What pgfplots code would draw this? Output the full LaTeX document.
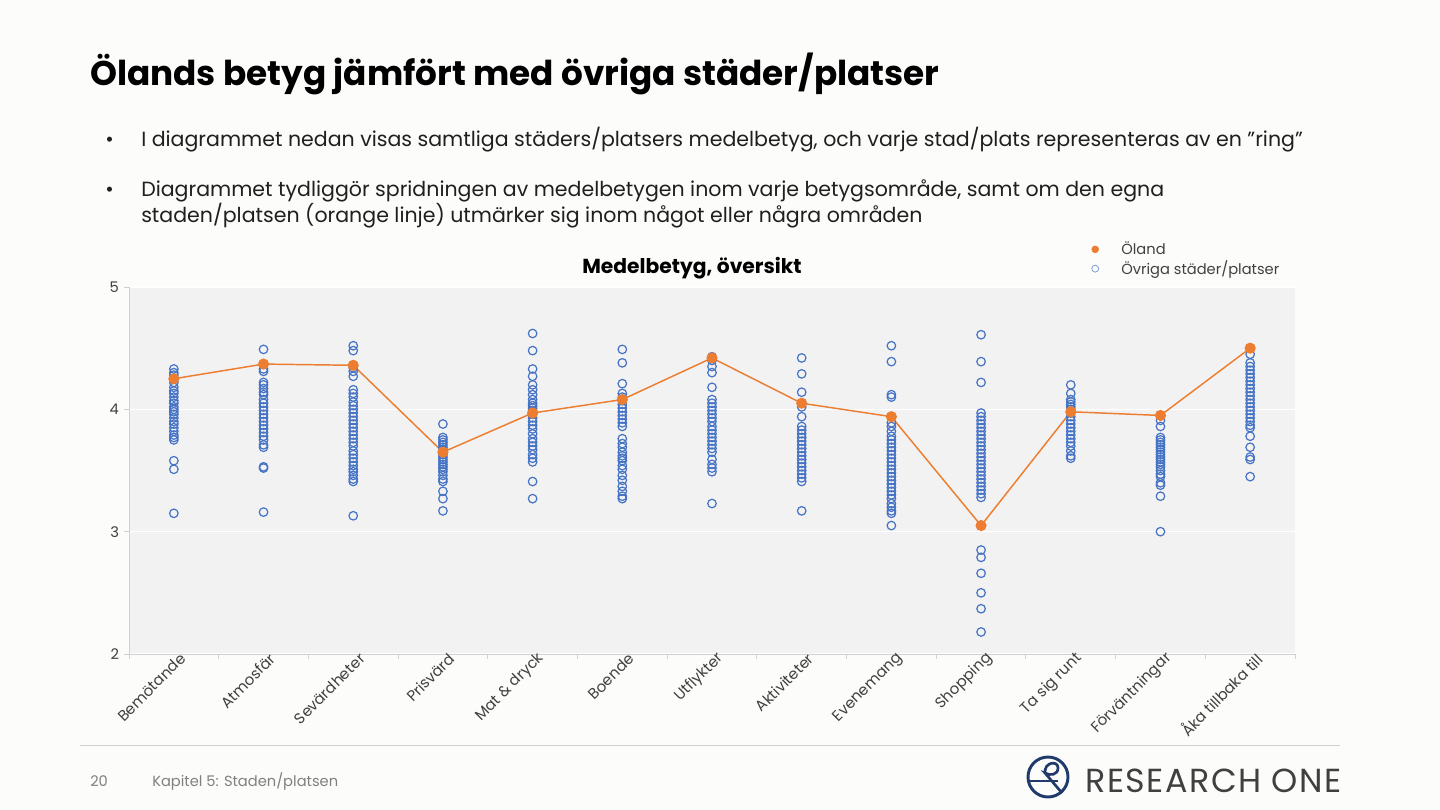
\documentclass[border=0pt]{standalone}
\usepackage{pgfplots}
\pgfplotsset{compat=1.18}
\usepackage{fontspec}
\setmainfont{Poppins}
\newfontfamily\logofont[LetterSpace=4.5]{Poppins}
\definecolor{bg}{HTML}{FCFCFA}
\definecolor{plotbg}{HTML}{F2F2F2}
\definecolor{axisgray}{HTML}{D0D0D0}
\definecolor{labelgray}{HTML}{404040}
\definecolor{footgray}{HTML}{808080}
\definecolor{oland}{HTML}{ED7D31}
\definecolor{others}{HTML}{4472C4}
\definecolor{logoblue}{HTML}{1F3A6B}
\begin{document}
\begin{tikzpicture}[x=0.75pt,y=-0.75pt]
\useasboundingbox (0,0) rectangle (1440,810);
\fill[bg] (0,0) rectangle (1440,810);
% title
\node[anchor=base west, inner sep=0pt, font=\bfseries\fontsize{25.7}{30}\selectfont, text=black] at (90,85) {Ölands betyg jämfört med övriga städer/platser};
% bullets
\begin{scope}[every node/.style={anchor=base west, inner sep=0pt, font=\fontsize{15.4}{18}\selectfont, text=black!88}]
\node at (105,146) {•};
\node at (141,146) {I diagrammet nedan visas samtliga städers/platsers medelbetyg, och varje stad/plats representeras av en ”ring”};
\node at (105,196) {•};
\node at (141,196) {Diagrammet tydliggör spridningen av medelbetygen inom varje betygsområde, samt om den egna};
\node at (141,222) {staden/platsen (orange linje) utmärker sig inom något eller några områden};
\end{scope}
% chart title
\node[anchor=base, inner sep=0pt, font=\bfseries\fontsize{15.2}{18}\selectfont] at (692,273) {Medelbetyg, översikt};
% footer
\draw[color=axisgray, line width=0.75pt] (80,745) -- (1340,745);
\node[anchor=base west, inner sep=0pt, font=\fontsize{11}{13}\selectfont, text=footgray] at (90,786) {20};
\node[anchor=base west, inner sep=0pt, font=\fontsize{11}{13}\selectfont, text=footgray] at (152,786) {Kapitel 5: Staden/platsen};
% logo
\draw[logoblue, line width=2.2pt] (1048,777) circle (20);
\draw[logoblue, line width=2pt] (1029,781) -- (1058,781);
\draw[logoblue, line width=2pt] (1045,773) .. controls (1044,762) and (1058,760) .. (1058,768) .. controls (1058,775) and (1050,776) .. (1045,773) -- (1062,793);
\node[anchor=base west, inner sep=0pt, font=\logofont\fontsize{25}{30}\selectfont, text=labelgray] at (1085,792) {RESEARCH ONE};
\begin{axis}[
  at={(96.75pt,-490.5pt)}, anchor=south west,
  width=874.5pt, height=275.25pt, scale only axis,
  xmin=-0.5, xmax=12.5, ymin=2, ymax=5,
  axis x line*=bottom, axis y line*=left,
  axis line style={draw=axisgray, line width=0.75pt, -},
  axis background/.style={fill=plotbg},
  ytick={2,3,4,5},
  ymajorgrids, grid style={white, line width=0.9pt},
  tick align=outside,
  major tick length=4pt,
  ytick style={draw=axisgray, line width=0.75pt},
  xtick={0,...,12},
  major x tick style={draw=none},
  minor xtick={-0.5,0.5,...,12.5},
  minor tick length=4pt,
  minor x tick style={draw=axisgray, line width=0.75pt},
  xticklabels={Bemötande,Atmosfär,Sevärdheter,Prisvärd,Mat \& dryck,Boende,Utflykter,Aktiviteter,Evenemang,Shopping,Ta sig runt,Förväntningar,Åka tillbaka till},
  xticklabel style={rotate=45, anchor=east, font=\fontsize{11.3}{13}\selectfont, text=labelgray, xshift=10pt, yshift=-3pt},
  yticklabel style={font=\fontsize{11}{13}\selectfont, text=labelgray},
  /pgf/number format/assume math mode=true,
  legend style={at={(0.822,1.138)}, anchor=north west, draw=none, fill=none, font=\fontsize{11}{13}\selectfont, text=labelgray, row sep=-1pt, /tikz/every odd column/.append style={column sep=15pt}},
  legend cell align=left,
  clip=false,
]
\addlegendimage{only marks, mark=*, mark size=2.6pt, color=oland}
\addlegendentry{Öland}
\addlegendimage{only marks, mark=o, mark size=2.6pt, color=others!70, line width=0.6pt}
\addlegendentry{Övriga städer/platser}
\addplot[forget plot, only marks, mark=o, mark size=3.2pt, color=others, line width=0.9pt] coordinates {
(0,4.33)(0,4.30)(0,4.28)(0,4.25)(0,4.22)(0,4.18)(0,4.15)(0,4.13)(0,4.10)(0,4.07)(0,4.05)(0,4.02)(0,4.00)(0,3.98)(0,3.96)(0,3.93)(0,3.90)(0,3.88)(0,3.85)(0,3.82)(0,3.79)(0,3.77)(0,3.75)(0,3.58)(0,3.51)(0,3.15)
(1,4.49)(1,4.33)(1,4.31)(1,4.22)(1,4.20)(1,4.17)(1,4.14)(1,4.12)(1,4.08)(1,4.05)(1,4.02)(1,3.99)(1,3.96)(1,3.93)(1,3.90)(1,3.87)(1,3.84)(1,3.81)(1,3.78)(1,3.75)(1,3.71)(1,3.69)(1,3.53)(1,3.52)(1,3.16)
(2,4.52)(2,4.48)(2,4.34)(2,4.31)(2,4.27)(2,4.16)(2,4.13)(2,4.10)(2,4.06)(2,4.03)(2,4.00)(2,3.97)(2,3.94)(2,3.91)(2,3.88)(2,3.85)(2,3.82)(2,3.79)(2,3.76)(2,3.73)(2,3.70)(2,3.66)(2,3.63)(2,3.60)(2,3.57)(2,3.54)(2,3.51)(2,3.49)(2,3.46)(2,3.43)(2,3.41)(2,3.13)
(3,3.88)(3,3.77)(3,3.75)(3,3.73)(3,3.71)(3,3.69)(3,3.67)(3,3.65)(3,3.63)(3,3.61)(3,3.59)(3,3.57)(3,3.55)(3,3.53)(3,3.51)(3,3.49)(3,3.46)(3,3.43)(3,3.41)(3,3.33)(3,3.27)(3,3.17)
(4,4.62)(4,4.48)(4,4.33)(4,4.27)(4,4.20)(4,4.16)(4,4.12)(4,4.08)(4,4.05)(4,4.03)(4,4.01)(4,3.99)(4,3.96)(4,3.93)(4,3.90)(4,3.87)(4,3.84)(4,3.80)(4,3.76)(4,3.73)(4,3.70)(4,3.67)(4,3.63)(4,3.60)(4,3.57)(4,3.41)(4,3.27)
(5,4.49)(5,4.38)(5,4.21)(5,4.13)(5,4.10)(5,4.07)(5,4.04)(5,4.01)(5,3.98)(5,3.95)(5,3.92)(5,3.89)(5,3.86)(5,3.76)(5,3.72)(5,3.69)(5,3.65)(5,3.62)(5,3.60)(5,3.58)(5,3.54)(5,3.51)(5,3.46)(5,3.42)(5,3.37)(5,3.33)(5,3.29)(5,3.27)
(6,4.43)(6,4.40)(6,4.35)(6,4.30)(6,4.18)(6,4.08)(6,4.05)(6,4.02)(6,3.99)(6,3.96)(6,3.93)(6,3.90)(6,3.86)(6,3.83)(6,3.80)(6,3.77)(6,3.74)(6,3.71)(6,3.68)(6,3.65)(6,3.59)(6,3.55)(6,3.52)(6,3.49)(6,3.23)
(7,4.42)(7,4.29)(7,4.14)(7,4.02)(7,3.94)(7,3.86)(7,3.83)(7,3.80)(7,3.77)(7,3.74)(7,3.71)(7,3.68)(7,3.65)(7,3.62)(7,3.59)(7,3.56)(7,3.53)(7,3.50)(7,3.47)(7,3.44)(7,3.41)(7,3.17)
(8,4.52)(8,4.39)(8,4.12)(8,4.10)(8,3.89)(8,3.86)(8,3.82)(8,3.78)(8,3.75)(8,3.72)(8,3.69)(8,3.66)(8,3.63)(8,3.60)(8,3.57)(8,3.54)(8,3.51)(8,3.48)(8,3.45)(8,3.42)(8,3.39)(8,3.36)(8,3.33)(8,3.30)(8,3.27)(8,3.23)(8,3.20)(8,3.17)(8,3.15)(8,3.05)
(9,4.61)(9,4.39)(9,4.22)(9,3.97)(9,3.94)(9,3.91)(9,3.88)(9,3.85)(9,3.82)(9,3.79)(9,3.76)(9,3.73)(9,3.70)(9,3.67)(9,3.64)(9,3.61)(9,3.58)(9,3.55)(9,3.52)(9,3.49)(9,3.46)(9,3.43)(9,3.40)(9,3.37)(9,3.34)(9,3.31)(9,3.28)(9,2.85)(9,2.79)(9,2.66)(9,2.50)(9,2.37)(9,2.18)
(10,4.20)(10,4.13)(10,4.08)(10,4.06)(10,4.04)(10,4.02)(10,4.00)(10,3.97)(10,3.94)(10,3.91)(10,3.88)(10,3.85)(10,3.82)(10,3.79)(10,3.76)(10,3.73)(10,3.70)(10,3.66)(10,3.62)(10,3.60)
(11,3.91)(11,3.86)(11,3.77)(11,3.75)(11,3.73)(11,3.71)(11,3.69)(11,3.67)(11,3.65)(11,3.63)(11,3.61)(11,3.59)(11,3.57)(11,3.55)(11,3.53)(11,3.50)(11,3.47)(11,3.45)(11,3.40)(11,3.38)(11,3.29)(11,3.00)
(12,4.45)(12,4.38)(12,4.35)(12,4.32)(12,4.29)(12,4.26)(12,4.23)(12,4.20)(12,4.17)(12,4.14)(12,4.11)(12,4.08)(12,4.05)(12,4.02)(12,3.99)(12,3.96)(12,3.93)(12,3.90)(12,3.87)(12,3.85)(12,3.78)(12,3.69)(12,3.61)(12,3.59)(12,3.45)
};
\addplot[forget plot, color=oland, line width=1.1pt, mark=*, mark size=3.6pt, mark options={fill=oland, draw=oland}] coordinates {
(0,4.25)(1,4.37)(2,4.36)(3,3.65)(4,3.97)(5,4.08)(6,4.42)(7,4.05)(8,3.94)(9,3.05)(10,3.98)(11,3.95)(12,4.50)
};
\end{axis}
\end{tikzpicture}
\end{document}
